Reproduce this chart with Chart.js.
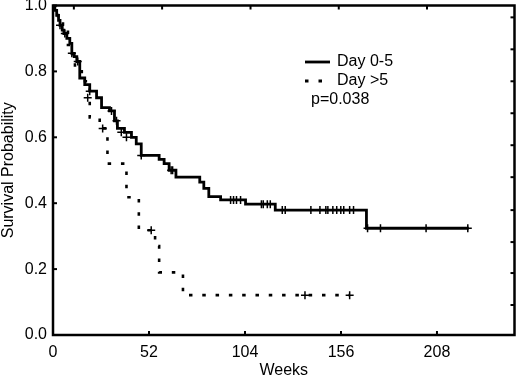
<!DOCTYPE html>
<html><head><meta charset="utf-8">
<script src="https://cdn.jsdelivr.net/npm/chart.js@4.4.1/dist/chart.umd.min.js"></script>
<style>html,body{margin:0;padding:0;background:#fff}</style>
</head><body>
<canvas id="c" width="520" height="377"></canvas>
<script>
// ---- data ----
const seriesLabels = ['Day 0-5', 'Day >5'];
const pValueText = 'p=0.038';
const xTitle = 'Weeks';
const yTitle = 'Survival Probability';
const xTickValues = [0, 52, 104, 156, 208];
const yTickValues = [0, 0.2, 0.4, 0.6, 0.8, 1.0];
const topFrameTicks = [11.3, 59.1, 107, 154.8, 202.6];
const rightFrameTicks = [0.091, 0.188, 0.282, 0.379, 0.479, 0.576, 0.673, 0.77, 0.867, 0.964];

// Day 0-5 : step times (weeks) and survival after each step
const early_weeks = [0, 1.0, 2.0, 3.0, 3.8, 5.0, 5.9, 7.5, 9.1, 10.2, 11.5, 12.9, 14.5, 17.2, 19.9, 23.6, 26.3, 30.6, 33.3, 34.9, 38.7, 42.5, 45.1, 47.8, 57.5, 60.2, 62.9, 66.6, 79.5, 81.7, 84.4, 90.8, 104.3, 120.4, 169.8, 225.2];
const early_surv  = [1.0, 0.985, 0.97, 0.955, 0.94, 0.925, 0.915, 0.9, 0.885, 0.855, 0.845, 0.83, 0.78, 0.76, 0.74, 0.72, 0.69, 0.68, 0.65, 0.627, 0.615, 0.60, 0.58, 0.545, 0.533, 0.52, 0.50, 0.479, 0.464, 0.445, 0.42, 0.41, 0.397, 0.379, 0.324, 0.324];
// Day 0-5 censored marks
const early_cens_weeks = [3.8, 6.4, 10.2, 13.4, 19.9, 31.7, 34.4, 37.0, 39.8, 47.8, 64.0, 64.8, 96.2, 97.8, 99.4, 101.6, 112.9, 113.9, 116.1, 117.7, 124.2, 125.8, 139.7, 144.6, 147.8, 148.9, 151.6, 153.7, 155.9, 157.5, 160.7, 162.8, 170.4, 177.4, 202.1, 224.7];
const early_cens_surv  = [0.94, 0.915, 0.855, 0.83, 0.74, 0.68, 0.65, 0.615, 0.60, 0.545, 0.50, 0.50, 0.41, 0.41, 0.41, 0.41, 0.397, 0.397, 0.397, 0.397, 0.379, 0.379, 0.379, 0.379, 0.379, 0.379, 0.379, 0.379, 0.379, 0.379, 0.379, 0.379, 0.324, 0.324, 0.324, 0.324];

// Day >5 : step times (weeks) and survival after each step
const late_weeks = [0, 2.7, 5.4, 8.1, 10.8, 11.9, 15.6, 19.9, 25.3, 29.5, 39.8, 46.5, 55.3, 57.5, 70.4, 160.7];
const late_surv  = [1.0, 0.96, 0.92, 0.88, 0.84, 0.80, 0.77, 0.66, 0.627, 0.52, 0.418, 0.318, 0.27, 0.19, 0.121, 0.121];
// Day >5 censored marks
const late_cens_weeks = [18.8, 26.9, 53.2, 136.5, 160.7];
const late_cens_surv  = [0.72, 0.627, 0.318, 0.121, 0.121];

// ---- build chart ----
const pts = (xs, ys) => xs.map((v, i) => ({x: v, y: ys[i]}));
const FONT = "'Liberation Sans', Arial, sans-serif";
const DASH = [3.5, 9.8];

const framePlugin = {
  id: 'frame',
  afterDatasetsDraw(chart) {
    const {ctx, chartArea: a, scales: {x, y}} = chart;
    ctx.save();
    ctx.strokeStyle = '#000';
    ctx.lineWidth = 2.5;
    ctx.strokeRect(a.left, a.top, a.right - a.left, a.bottom - a.top);
    ctx.lineWidth = 2;
    const seg = (x1, y1, x2, y2) => { ctx.beginPath(); ctx.moveTo(x1, y1); ctx.lineTo(x2, y2); ctx.stroke(); };
    xTickValues.forEach(v => { const px = x.getPixelForValue(v); seg(px, a.bottom, px, a.bottom - 4); });
    yTickValues.forEach(v => { const py = y.getPixelForValue(v); seg(a.left, py, a.left + 4, py); });
    topFrameTicks.forEach(v => { const px = x.getPixelForValue(v); seg(px, a.top, px, a.top + 4); });
    rightFrameTicks.forEach(v => { const py = y.getPixelForValue(v); seg(a.right, py, a.right - 4, py); });
    ctx.restore();
  }
};

const legendPlugin = {
  id: 'kmLegend',
  afterDraw(chart) {
    const ctx = chart.ctx;
    ctx.save();
    ctx.strokeStyle = '#000';
    ctx.fillStyle = '#000';
    ctx.lineWidth = 2.8;
    ctx.beginPath(); ctx.moveTo(305, 62); ctx.lineTo(330, 62); ctx.stroke();
    ctx.setLineDash([3.5, 10]);
    ctx.beginPath(); ctx.moveTo(305, 81); ctx.lineTo(324, 81); ctx.stroke();
    ctx.setLineDash([]);
    ctx.font = '16px ' + FONT;
    ctx.textBaseline = 'middle';
    ctx.textAlign = 'left';
    ctx.fillText(seriesLabels[0], 337, 62);
    ctx.fillText(seriesLabels[1], 337, 81);
    ctx.fillText(pValueText, 311, 100);
    ctx.restore();
  }
};

new Chart(document.getElementById('c'), {
  type: 'line',
  data: {
    datasets: [
      {label: seriesLabels[0], data: pts(early_weeks, early_surv), stepped: 'before',
       borderColor: '#000', borderWidth: 2.8, pointRadius: 0, fill: false},
      {label: seriesLabels[1], data: pts(late_weeks, late_surv), stepped: 'before',
       borderColor: '#000', borderWidth: 2.6, borderDash: DASH, pointRadius: 0, fill: false},
      {label: seriesLabels[0] + ' censored', data: pts(early_cens_weeks, early_cens_surv), showLine: false,
       pointStyle: 'cross', pointRadius: 4, borderColor: '#000', pointBorderWidth: 1.5, clip: false},
      {label: seriesLabels[1] + ' censored', data: pts(late_cens_weeks, late_cens_surv), showLine: false,
       pointStyle: 'cross', pointRadius: 4, borderColor: '#000', pointBorderWidth: 1.5, clip: false}
    ]
  },
  options: {
    responsive: false,
    animation: false,
    layout: {padding: {top: 5, right: 2, left: 0, bottom: 0}},
    plugins: {legend: {display: false}, tooltip: {enabled: false}},
    scales: {
      x: {
        type: 'linear', min: 0, max: 250,
        grid: {display: false, drawTicks: false}, border: {display: false},
        afterBuildTicks: s => { s.ticks = xTickValues.map(v => ({value: v})); },
        afterFit: s => { s.height = 42; s.paddingLeft = 0; s.paddingRight = 0; },
        ticks: {padding: 8, color: '#000', font: {family: FONT, size: 16}, maxRotation: 0, autoSkip: false},
        title: {display: true, text: xTitle, color: '#000', font: {family: FONT, size: 16, lineHeight: 0.8}, padding: {top: 0, bottom: 0}}
      },
      y: {
        type: 'linear', min: 0, max: 1,
        grid: {display: false, drawTicks: false}, border: {display: false},
        afterBuildTicks: s => { s.ticks = yTickValues.map(v => ({value: v})); },
        afterFit: s => { s.width = 53; s.paddingTop = 0; s.paddingBottom = 0; },
        ticks: {padding: 6, color: '#000', font: {family: FONT, size: 16}, callback: v => Number(v).toFixed(1), autoSkip: false},
        title: {display: true, text: yTitle, color: '#000', font: {family: FONT, size: 16, lineHeight: 1}, padding: {top: 1, bottom: 0}}
      }
    }
  },
  plugins: [framePlugin, legendPlugin]
});
</script>
</body></html>
